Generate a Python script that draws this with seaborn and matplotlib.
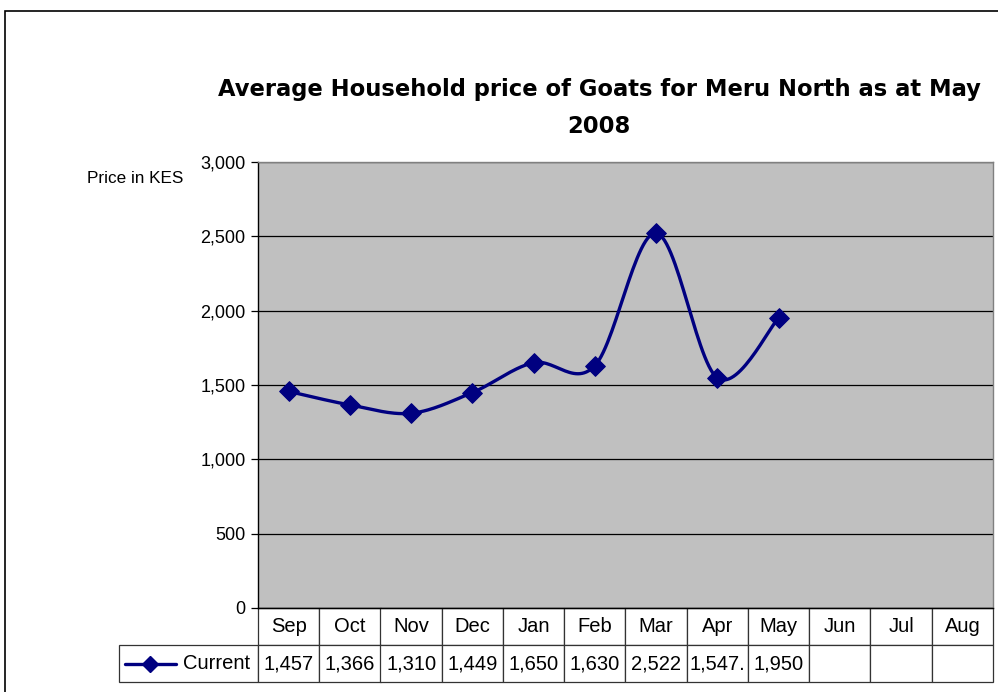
import numpy as np
import pandas as pd
import matplotlib.pyplot as plt
import seaborn as sns
from matplotlib.patches import Rectangle
from matplotlib.lines import Line2D
from matplotlib.table import Table

months = ["Sep", "Oct", "Nov", "Dec", "Jan", "Feb", "Mar", "Apr", "May", "Jun", "Jul", "Aug"]
current = [1457, 1366, 1310, 1449, 1650, 1630, 2522, 1547.5, 1950]
series_name = "Current"
y_ticks = [0, 500, 1000, 1500, 2000, 2500, 3000]

NAVY = "#000080"
PLOT_BG = "#C0C0C0"

sns.set_style("white", {"axes.facecolor": PLOT_BG})
plt.rcParams["font.family"] = ["Liberation Sans", "DejaVu Sans"]
plt.rcParams["text.color"] = "black"
plt.rcParams["ytick.color"] = "black"
plt.rcParams["xtick.color"] = "black"

df = pd.DataFrame({"month": months[:len(current)], "price": current})
df["pos"] = np.arange(len(df))


def smooth(x, y, n=30):
    # Catmull-Rom style smoothing, like Excel's smoothed line
    x = np.asarray(x, float)
    y = np.asarray(y, float)
    px = np.concatenate([[x[0]], x, [x[-1]]])
    py = np.concatenate([[y[0]], y, [y[-1]]])
    xs, ys = [], []
    t = np.linspace(0, 1, n)
    for i in range(1, len(px) - 2):
        p0, p1, p2, p3 = (np.array([px[j], py[j]]) for j in range(i - 1, i + 3))
        c1 = p1 + (p2 - p0) / 6
        c2 = p2 - (p3 - p1) / 6
        b = ((1 - t) ** 3)[:, None] * p1 + (3 * (1 - t) ** 2 * t)[:, None] * c1 \
            + (3 * (1 - t) * t ** 2)[:, None] * c2 + (t ** 3)[:, None] * p2
        xs.extend(b[:, 0])
        ys.extend(b[:, 1])
    return pd.DataFrame({"pos": xs, "price": ys})


curve = smooth(df["pos"], df["price"])

fig = plt.figure(figsize=(9.98, 6.92), dpi=100)
ax = fig.add_axes([258 / 998, 1 - 608 / 692, 735 / 998, 446 / 692])

sns.lineplot(data=curve, x="pos", y="price", sort=False, color=NAVY, lw=2.4, ax=ax, zorder=3)
sns.scatterplot(data=df, x="pos", y="price", marker="D", s=100, color=NAVY,
                edgecolor=NAVY, ax=ax, zorder=4)

ax.set_xlim(-0.5, len(months) - 0.5)
ax.set_ylim(0, 3000)
ax.set_yticks(y_ticks)
ax.set_yticklabels([f"{v:,}" for v in y_ticks], fontsize=13)
ax.set_xticks([])
ax.set_xlabel("")
ax.set_ylabel("")
ax.yaxis.grid(True, color="black", lw=0.9)
ax.set_axisbelow(True)
ax.tick_params(axis="y", length=5, width=0.9, color="black", left=True, pad=4)
ax.spines["left"].set_color("black")
ax.spines["bottom"].set_color("black")
for s in ["top", "right"]:
    ax.spines[s].set_color("#808080")
for s in ax.spines.values():
    s.set_linewidth(1.0)

ax.text(-0.102, 0.964, "Price in KES", transform=ax.transAxes, ha="right", va="center",
        fontsize=12.3)

# data table below the plot (bbox covers the month grid, label column hangs left)
labels = [f"{v:,.0f}" if float(v).is_integer() else f"{v:,.1f}"[:-1] for v in current]
row_vals = labels + [""] * (len(months) - len(labels))
label_w = 139 / 735
col_w = 1 / len(months)
row_h = 37 / 446
tbl = Table(ax, bbox=[0, -2 * row_h, 1, 2 * row_h])
for c, m in enumerate(months):
    tbl.add_cell(0, c, col_w, row_h, text=m, loc="center")
    tbl.add_cell(1, c, col_w, row_h, text=row_vals[c], loc="center")
lab = tbl.add_cell(1, -1, label_w, row_h, text=series_name, loc="right")
tbl.auto_set_font_size(False)
tbl.set_fontsize(14.5)
for cell in tbl.get_celld().values():
    cell.set_edgecolor("#333333")
    cell.set_linewidth(0.9)
    cell.set_facecolor("white")
    cell.PAD = 0.0
lab.PAD = 0.06
ax.add_table(tbl)

# legend key inside the row label cell
ax.add_line(Line2D([(125 - 258) / 735, (176 - 258) / 735], [-1.5 * row_h] * 2,
                   transform=ax.transAxes, color=NAVY, lw=2.4, clip_on=False, zorder=5))
ax.add_line(Line2D([(150 - 258) / 735], [-1.5 * row_h], transform=ax.transAxes,
                   marker="D", markersize=8, color=NAVY, clip_on=False, zorder=5))

fig.text(599 / 998, 1 - 108 / 692,
         "Average Household price of Goats for Meru North as at May\n2008",
         ha="center", va="center", fontsize=16.3, fontweight="bold",
         family="DejaVu Sans", linespacing=1.8, color="black")

fig.patches.append(Rectangle((5 / 998, -0.1), 1.1, 1 - 11 / 692 + 0.1,
                             transform=fig.transFigure, fill=False,
                             edgecolor="black", lw=1.2))

fig.savefig("out.png", dpi=100)
